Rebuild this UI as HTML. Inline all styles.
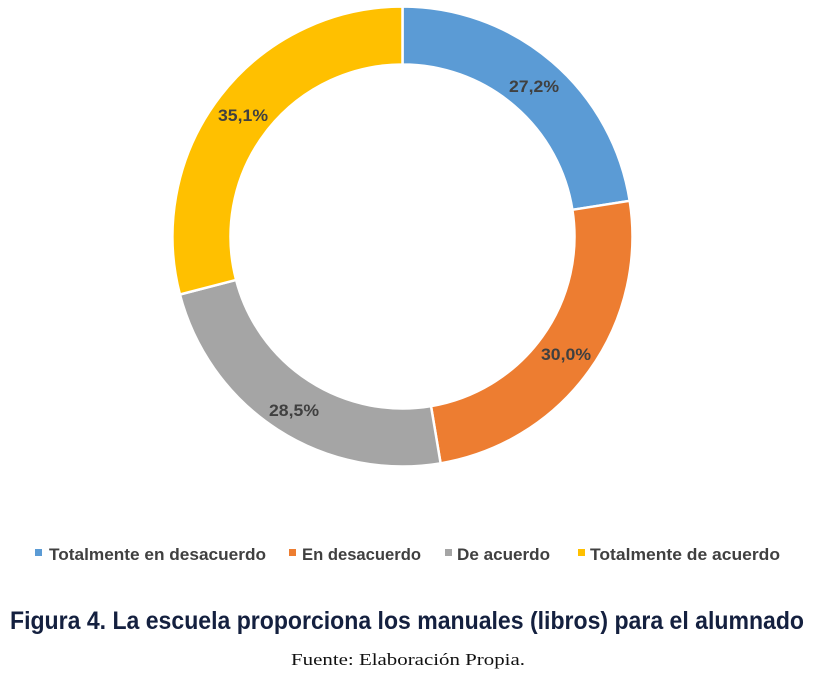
<!DOCTYPE html>
<html><head><meta charset="utf-8"><style>
html,body{margin:0;padding:0;background:#fff;}
svg{display:block;}
</style></head><body>
<svg width="816" height="678" viewBox="0 0 816 678" xmlns="http://www.w3.org/2000/svg">
<rect width="816" height="678" fill="#fff"/>
<g stroke="#fff" stroke-width="2.5" stroke-linejoin="round">
<path d="M402.5,6.5 A230,230 0 0 1 629.7,200.8 L572.4,209.8 A172,172 0 0 0 402.5,64.5 Z" fill="#5B9BD5"/>
<path d="M629.7,200.8 A230,230 0 0 1 440.6,463.3 L431.0,406.1 A172,172 0 0 0 572.4,209.8 Z" fill="#ED7D31"/>
<path d="M440.6,463.3 A230,230 0 0 1 179.9,294.5 L236.1,279.9 A172,172 0 0 0 431.0,406.1 Z" fill="#A5A5A5"/>
<path d="M179.9,294.5 A230,230 0 0 1 402.5,6.5 L402.5,64.5 A172,172 0 0 0 236.1,279.9 Z" fill="#FFC000"/>
</g>
<g font-family="Liberation Sans, sans-serif" font-weight="bold" font-size="17" fill="#404040" text-anchor="middle">
<text x="534" y="92" textLength="50" lengthAdjust="spacingAndGlyphs">27,2%</text>
<text x="566" y="360" textLength="50" lengthAdjust="spacingAndGlyphs">30,0%</text>
<text x="294" y="416" textLength="50" lengthAdjust="spacingAndGlyphs">28,5%</text>
<text x="243" y="121" textLength="50" lengthAdjust="spacingAndGlyphs">35,1%</text>
</g>
<g font-family="Liberation Sans, sans-serif" font-weight="bold" font-size="17" fill="#404040">
<rect x="35" y="549" width="7" height="7" fill="#5B9BD5"/>
<text x="49" y="560" textLength="217" lengthAdjust="spacingAndGlyphs">Totalmente en desacuerdo</text>
<rect x="289" y="549" width="7" height="7" fill="#ED7D31"/>
<text x="302" y="560" textLength="119" lengthAdjust="spacingAndGlyphs">En desacuerdo</text>
<rect x="445" y="549" width="7" height="7" fill="#A5A5A5"/>
<text x="457" y="560" textLength="93" lengthAdjust="spacingAndGlyphs">De acuerdo</text>
<rect x="578" y="549" width="7" height="7" fill="#FFC000"/>
<text x="590" y="560" textLength="190" lengthAdjust="spacingAndGlyphs">Totalmente de acuerdo</text>
</g>
<text x="10" y="629" font-family="Liberation Sans, sans-serif" font-weight="bold" font-size="25" fill="#14203f" textLength="794" lengthAdjust="spacingAndGlyphs">Figura 4. La escuela proporciona los manuales (libros) para el alumnado</text>
<text x="408" y="665" text-anchor="middle" font-family="Liberation Serif, serif" font-size="17" fill="#111" textLength="234" lengthAdjust="spacingAndGlyphs">Fuente: Elaboración Propia.</text>
</svg>
</body></html>
